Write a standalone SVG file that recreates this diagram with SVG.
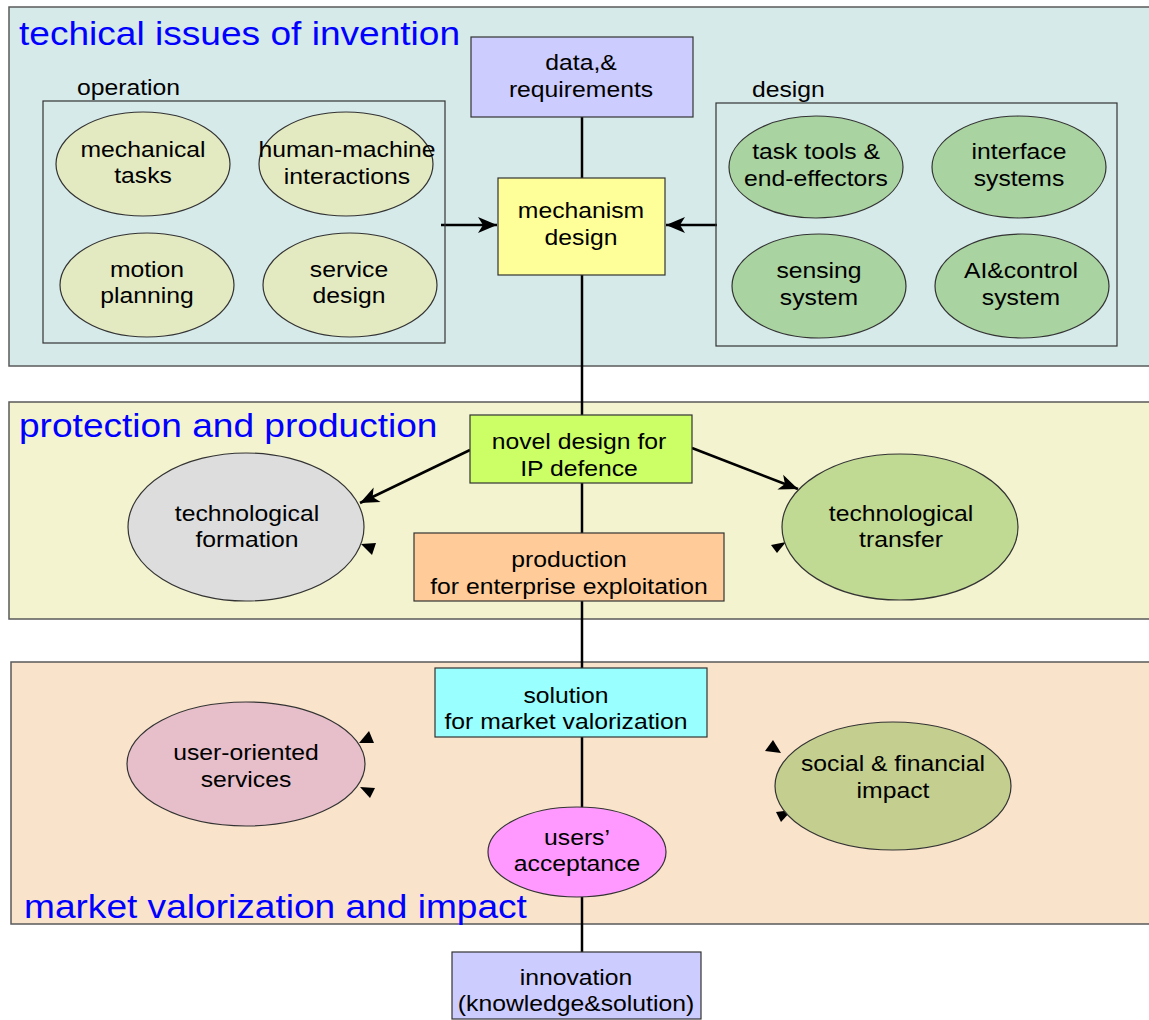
<svg xmlns="http://www.w3.org/2000/svg" width="1149" height="1020" viewBox="0 0 1149 1020">
<style>
.panel{stroke:#5a5a5a;stroke-width:1.5}
.box{stroke:#333;stroke-width:1.2}
.frame{fill:none;stroke:#333;stroke-width:1.2}
.t{font-family:"Liberation Sans",Arial,sans-serif;font-size:22px;fill:#000;text-anchor:middle}
.lbl{font-family:"Liberation Sans",Arial,sans-serif;font-size:22px;fill:#000}
.title{font-family:"Liberation Sans",Arial,sans-serif;font-size:33px;fill:#0000ff}
.ln{stroke:#000;stroke-width:2.5;fill:none}
.head{fill:#000}
</style>
<defs>
<marker id="arr" markerUnits="userSpaceOnUse" markerWidth="22" markerHeight="20" viewBox="-20 -10 22 20" refX="0" refY="0" orient="auto">
<path d="M0,0 L-19,-8 L-14,0 L-19,8 z" fill="#000"/>
</marker>
</defs>
<g id="panels">
<rect id="panel-invention" class="panel" x="9" y="7" width="1150" height="359" fill="#d6eaea"/>
<rect id="panel-protection" class="panel" x="9" y="402" width="1150" height="217" fill="#f3f3cf"/>
<rect id="panel-market" class="panel" x="11" y="662" width="1148" height="262" fill="#fae3cb"/>
<text class="title" transform="translate(19 0) scale(1.124 1)" x="0" y="45">techical issues of invention</text>
<text class="title" transform="translate(19 0) scale(1.124 1)" x="0" y="437">protection and production</text>
<text class="title" transform="translate(24 0) scale(1.124 1)" x="0" y="918">market valorization and impact</text>
</g>
<g id="connectors">
<line class="ln" x1="582" y1="117" x2="582" y2="178"/>
<line class="ln" x1="582" y1="275" x2="582" y2="415"/>
<line class="ln" x1="582" y1="483" x2="582" y2="533"/>
<line class="ln" x1="582" y1="601" x2="582" y2="668"/>
<line class="ln" x1="582" y1="737" x2="582" y2="808"/>
<line class="ln" x1="582" y1="897" x2="582" y2="952"/>
<line class="ln" x1="441" y1="225" x2="497" y2="225" marker-end="url(#arr)"/>
<line class="ln" x1="717" y1="225" x2="666" y2="225" marker-end="url(#arr)"/>
<line class="ln" x1="470" y1="450" x2="360" y2="503" marker-end="url(#arr)"/>
<line class="ln" x1="692" y1="448" x2="798" y2="489" marker-end="url(#arr)"/>
<polygon class="head" points="361,544 376,543 372,555"/>
<polygon class="head" points="771,545 786,542 777,553"/>
<polygon class="head" points="359,743 369,731 374,743"/>
<polygon class="head" points="360,787 375,788 370,798"/>
<polygon class="head" points="765,751 773,740 781,753"/>
<polygon class="head" points="776,812 792,810 781,822"/>
</g>
<g id="operation">
<rect class="frame" x="43" y="101" width="402" height="242"/>
<text class="lbl" transform="translate(77 0) scale(1.124 1)" x="0" y="95">operation</text>
</g>
<g id="mechanical-tasks">
<ellipse class="box" cx="143" cy="164" rx="87" ry="52" fill="#e3eac1"/>
<text class="t" transform="translate(143 0) scale(1.124 1)"><tspan x="0" y="157">mechanical</tspan><tspan x="0" y="183">tasks</tspan></text>
</g>
<g id="human-machine">
<ellipse class="box" cx="346" cy="164" rx="87" ry="52" fill="#e3eac1"/>
<text class="t" transform="translate(347 0) scale(1.124 1)"><tspan x="0" y="157">human-machine</tspan><tspan x="0" y="184">interactions</tspan></text>
</g>
<g id="motion-planning">
<ellipse class="box" cx="147" cy="285" rx="87" ry="52" fill="#e3eac1"/>
<text class="t" transform="translate(147 0) scale(1.124 1)"><tspan x="0" y="277">motion</tspan><tspan x="0" y="303">planning</tspan></text>
</g>
<g id="service-design">
<ellipse class="box" cx="350" cy="285" rx="87" ry="52" fill="#e3eac1"/>
<text class="t" transform="translate(349 0) scale(1.124 1)"><tspan x="0" y="277">service</tspan><tspan x="0" y="303">design</tspan></text>
</g>
<g id="design">
<rect class="frame" x="716" y="103" width="401" height="243"/>
<text class="lbl" transform="translate(752 0) scale(1.124 1)" x="0" y="97">design</text>
</g>
<g id="task-tools">
<ellipse class="box" cx="816" cy="167" rx="87" ry="51" fill="#a9d3a0"/>
<text class="t" transform="translate(816 0) scale(1.124 1)"><tspan x="0" y="159">task tools &amp;</tspan><tspan x="0" y="186">end-effectors</tspan></text>
</g>
<g id="interface-systems">
<ellipse class="box" cx="1019" cy="167" rx="87" ry="51" fill="#a9d3a0"/>
<text class="t" transform="translate(1019 0) scale(1.124 1)"><tspan x="0" y="159">interface</tspan><tspan x="0" y="186">systems</tspan></text>
</g>
<g id="sensing-system">
<ellipse class="box" cx="819" cy="286" rx="87" ry="52" fill="#a9d3a0"/>
<text class="t" transform="translate(819 0) scale(1.124 1)"><tspan x="0" y="278">sensing</tspan><tspan x="0" y="305">system</tspan></text>
</g>
<g id="ai-control">
<ellipse class="box" cx="1022" cy="286" rx="87" ry="52" fill="#a9d3a0"/>
<text class="t" transform="translate(1021 0) scale(1.124 1)"><tspan x="0" y="278">AI&amp;control</tspan><tspan x="0" y="305">system</tspan></text>
</g>
<g id="data-requirements">
<rect class="box" x="471" y="37" width="222" height="80" fill="#ccccff"/>
<text class="t" transform="translate(581 0) scale(1.124 1)"><tspan x="0" y="70">data,&amp;</tspan><tspan x="0" y="97">requirements</tspan></text>
</g>
<g id="mechanism-design">
<rect class="box" x="498" y="178" width="167" height="97" fill="#ffff99"/>
<text class="t" transform="translate(581 0) scale(1.124 1)"><tspan x="0" y="218">mechanism</tspan><tspan x="0" y="245">design</tspan></text>
</g>
<g id="novel-design">
<rect class="box" x="470" y="415" width="222" height="68" fill="#ccff66"/>
<text class="t" transform="translate(579 0) scale(1.124 1)"><tspan x="0" y="449">novel design for</tspan><tspan x="0" y="476">IP defence</tspan></text>
</g>
<g id="technological-formation">
<ellipse class="box" cx="246" cy="527" rx="118" ry="74" fill="#dddddd"/>
<text class="t" transform="translate(247 0) scale(1.124 1)"><tspan x="0" y="521">technological</tspan><tspan x="0" y="547">formation</tspan></text>
</g>
<g id="technological-transfer">
<ellipse class="box" cx="900" cy="527" rx="118" ry="73" fill="#c0d993"/>
<text class="t" transform="translate(901 0) scale(1.124 1)"><tspan x="0" y="521">technological</tspan><tspan x="0" y="547">transfer</tspan></text>
</g>
<g id="production">
<rect class="box" x="414" y="533" width="310" height="68" fill="#ffcc99"/>
<text class="t" transform="translate(569 0) scale(1.124 1)"><tspan x="0" y="567">production</tspan><tspan x="0" y="594">for enterprise exploitation</tspan></text>
</g>
<g id="solution">
<rect class="box" x="435" y="668" width="272" height="69" fill="#99ffff"/>
<text class="t" transform="translate(566 0) scale(1.124 1)"><tspan x="0" y="703">solution</tspan><tspan x="0" y="729">for market valorization</tspan></text>
</g>
<g id="user-oriented-services">
<ellipse class="box" cx="246" cy="764" rx="119" ry="62" fill="#e6bfca"/>
<text class="t" transform="translate(246 0) scale(1.124 1)"><tspan x="0" y="760">user-oriented</tspan><tspan x="0" y="787">services</tspan></text>
</g>
<g id="social-financial-impact">
<ellipse class="box" cx="893" cy="786" rx="118" ry="64" fill="#c4cf8f"/>
<text class="t" transform="translate(893 0) scale(1.124 1)"><tspan x="0" y="771">social &amp; financial</tspan><tspan x="0" y="798">impact</tspan></text>
</g>
<g id="users-acceptance">
<ellipse class="box" cx="577" cy="852" rx="89" ry="45" fill="#ff99ff"/>
<text class="t" transform="translate(577 0) scale(1.124 1)"><tspan x="0" y="845">users’</tspan><tspan x="0" y="871">acceptance</tspan></text>
</g>
<g id="innovation">
<rect class="box" x="452" y="952" width="249" height="67" fill="#ccccff"/>
<text class="t" transform="translate(576 0) scale(1.124 1)"><tspan x="0" y="985">innovation</tspan><tspan x="0" y="1011">(knowledge&amp;solution)</tspan></text>
</g>
</svg>
